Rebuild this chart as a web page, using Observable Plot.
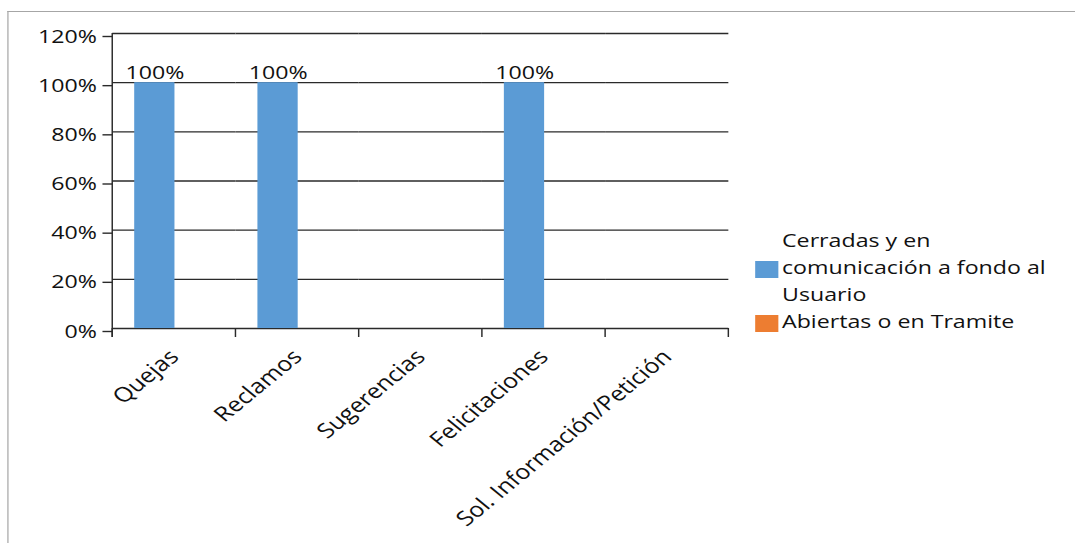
<!DOCTYPE html>
<html>
<head>
<meta charset="utf-8">
<script src="https://cdn.jsdelivr.net/npm/d3@7"></script>
<script src="https://cdn.jsdelivr.net/npm/@observablehq/plot@0.6"></script>
<style>
  html, body { margin: 0; padding: 0; background: #fff; overflow: hidden; }
  #wrap { position: absolute; left: 0; top: 0; width: 881px; height: 543px; transform: scaleX(1.22); transform-origin: 0 0; }
  #frame { position: absolute; left: 5.5px; top: 10.5px; width: 1000px; height: 1000px; border-left: 1.5px solid #a6a6a6; border-top: 1.5px solid #a6a6a6; }
  #chart { position: absolute; left: 0; top: 0; }
  .leg { position: absolute; font-family: 'Open Sans', sans-serif; font-size: 19px; line-height: 27px; color: #111; white-space: nowrap; }
  .sw { position: absolute; }
</style>
</head>
<body>
<div id="wrap">
  <div id="frame"></div>
  <div id="chart"></div>
  <div id="legend"></div>
</div>
<script>
const categories = ["Quejas", "Reclamos", "Sugerencias", "Felicitaciones", "Sol. Información/Petición"];
const series = ["Cerradas y en comunicación a fondo al Usuario", "Abiertas o en Tramite"];
const seriesLines = [["Cerradas y en", "comunicación a fondo al", "Usuario"], ["Abiertas o en Tramite"]];
const cerradas = [1, 1, 0, 1, 0];
const abiertas = [0, 0, 0, 0, 0];
const yTicks = [0, 0.2, 0.4, 0.6, 0.8, 1.0, 1.2];
const colors = ["#5B9BD5", "#ED7D31"];

const data = categories.flatMap((c, i) => [
  {category: c, series: series[0], value: cerradas[i]},
  {category: c, series: series[1], value: abiertas[i]}
]);
const pct = d => Math.round(d * 100) + "%";

const plot = Plot.plot({
  width: 881,
  height: 543,
  marginLeft: 90,
  marginRight: 282.6,
  marginTop: 33,
  marginBottom: 215,
  style: {fontFamily: "'Open Sans', sans-serif", fontSize: "19px", color: "#111", background: "transparent", overflow: "visible"},
  fx: {domain: categories, padding: 0, label: null},
  x: {domain: series, paddingInner: 0, paddingOuter: 0.5, axis: null},
  y: {domain: [0, 1.2], label: null},
  color: {domain: series, range: colors},
  marks: [
    Plot.gridY(yTicks, {stroke: "#2a2a2a", strokeOpacity: 1, strokeWidth: 1.4}),
    Plot.barY(data, {fx: "category", x: "series", y: "value", fill: "series"}),
    Plot.text(data.filter(d => d.value > 0), {fx: "category", x: "series", y: "value", text: d => pct(d.value), lineAnchor: "bottom", dy: -4, fill: "#111"}),
    Plot.axisY(yTicks, {tickSize: 8, tickPadding: 5, tickFormat: pct, stroke: "#2a2a2a", strokeWidth: 1.4, label: null, dy: 3}),
    Plot.axisFx({anchor: "bottom", tickRotate: -45, tickSize: 0, tickPadding: 25, fontSize: 20.5, label: null})
  ]
});
document.getElementById("chart").appendChild(plot);

// Excel-style axis line and category boundary ticks, positioned through Plot's scales
const fx = plot.scale("fx"), y = plot.scale("y");
const bounds = categories.map(c => fx.apply(c));
bounds.push(fx.apply(categories[categories.length - 1]) + fx.bandwidth);
const y0 = y.apply(0), yTop = y.apply(1.2);
const svg = d3.select(plot.tagName.toLowerCase() === "svg" ? plot : plot.querySelector("svg"));
const g = svg.append("g").attr("stroke", "#2a2a2a").attr("stroke-width", 1.2);
g.append("line").attr("x1", bounds[0]).attr("x2", bounds[0]).attr("y1", yTop).attr("y2", y0 + 9);
bounds.forEach(b => g.append("line").attr("x1", b).attr("x2", b).attr("y1", y0).attr("y2", y0 + 9));

// Legend
const legend = d3.select("#legend");
const legTop = 227;
const legLeft = 619;
let line = 0;
seriesLines.forEach((lines, i) => {
  const startLine = line;
  lines.forEach(t => {
    legend.append("div").attr("class", "leg")
      .style("left", (legLeft + 22) + "px").style("top", (legTop + line * 27) + "px").text(t);
    line++;
  });
  const midY = legTop + (startLine + lines.length / 2) * 27 + 2;
  legend.append("div").attr("class", "sw")
    .style("left", legLeft + "px").style("top", (midY - 8.5) + "px")
    .style("width", "18.5px").style("height", "16.5px").style("background", colors[i]);
});
</script>
</body>
</html>
